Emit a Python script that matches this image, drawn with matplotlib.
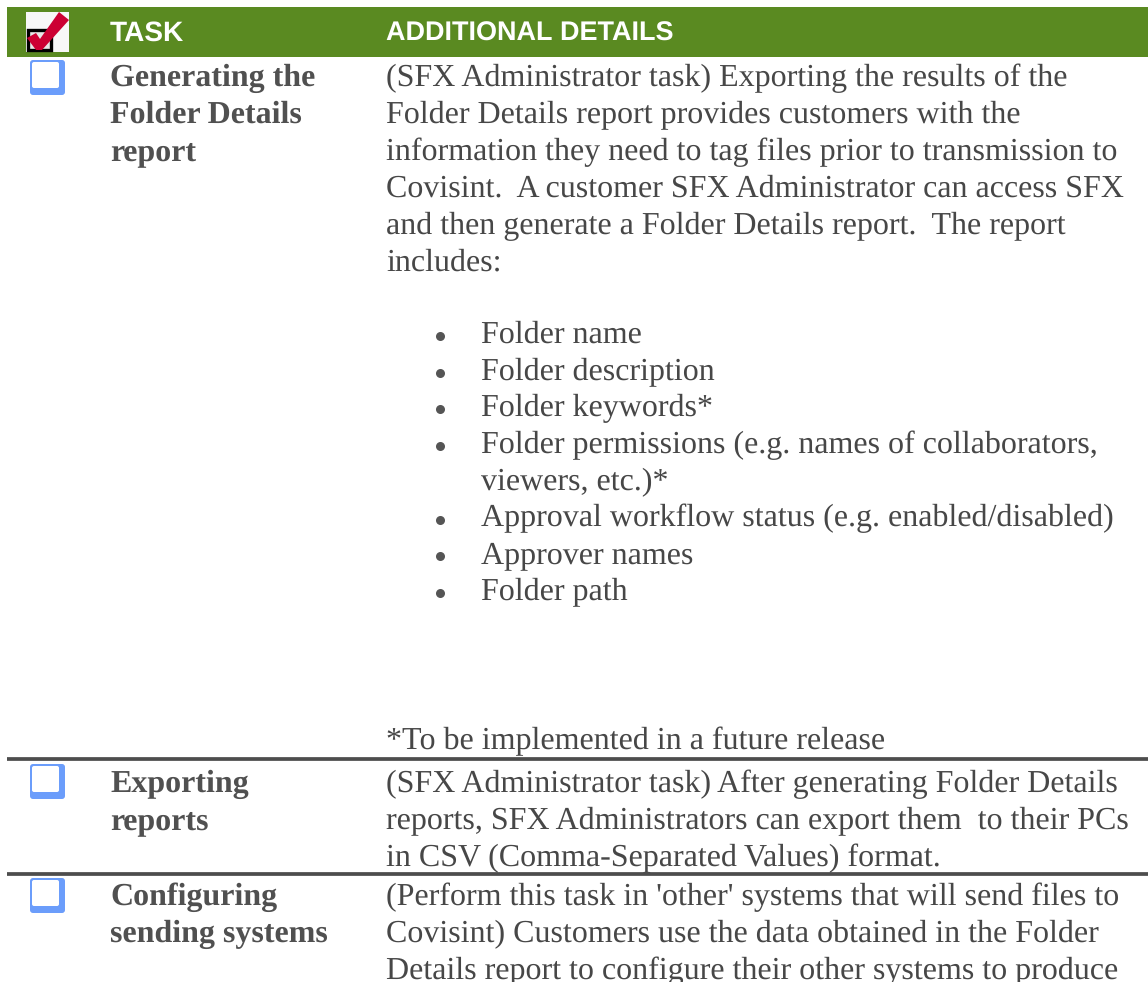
import matplotlib
matplotlib.use("Agg")
import matplotlib.pyplot as plt
from matplotlib.patches import Rectangle, FancyBboxPatch, Polygon

plt.rcParams["text.hinting"] = "none"
plt.rcParams["text.hinting_factor"] = 1

W, H = 1148, 982

headers = ["TASK", "ADDITIONAL DETAILS"]
task_lines = [
    ["Generating the", "Folder Details", "report"],
    ["Exporting", "reports"],
    ["Configuring", "sending systems"],
]
intro_lines = [
    "(SFX Administrator task) Exporting the results of the",
    "Folder Details report provides customers with the",
    "information they need to tag files prior to transmission to",
    "Covisint.  A customer SFX Administrator can access SFX",
    "and then generate a Folder Details report.  The report",
    "includes:",
]
bullets = [
    ["Folder name"],
    ["Folder description"],
    ["Folder keywords*"],
    ["Folder permissions (e.g. names of collaborators,", "viewers, etc.)*"],
    ["Approval workflow status (e.g. enabled/disabled)"],
    ["Approver names"],
    ["Folder path"],
]
footnote = "*To be implemented in a future release"
export_lines = [
    "(SFX Administrator task) After generating Folder Details",
    "reports, SFX Administrators can export them  to their PCs",
    "in CSV (Comma-Separated Values) format.",
]
config_lines = [
    "(Perform this task in 'other' systems that will send files to",
    "Covisint) Customers use the data obtained in the Folder",
    "Details report to configure their other systems to produce",
]

GREEN = "#5a8a21"
DARK = "#4d4d4d"
BLUE = "#6b9dfb"
FS = 23
LINE = 36.9

fig = plt.figure(figsize=(W / 100, H / 100), dpi=100)
ax = fig.add_axes([0, 0, 1, 1])
ax.set_xlim(0, W)
ax.set_ylim(H, 0)
ax.axis("off")


def body(x, y, s, **kw):
    ax.text(x, y, s, family="Liberation Serif", fontsize=FS, color="#474747",
            va="baseline", ha="left", **kw)


def box(y):
    ax.add_patch(FancyBboxPatch((30, y), 35, 35, boxstyle="round,pad=0,rounding_size=3",
                                fc=BLUE, ec="none"))
    ax.add_patch(FancyBboxPatch((32, y + 2), 27, 26, boxstyle="round,pad=0,rounding_size=2",
                                fc="white", ec="none"))


# header band and icon
ax.add_patch(Rectangle((7, 7), W - 7, 50, fc=GREEN, ec="none"))
ax.add_patch(Rectangle((26, 12), 43, 40, fc="#f7f7f7", ec="none"))
ax.add_patch(Rectangle((28, 30), 23, 20, fc="#e8e8e8", ec="black", lw=2.4))
ax.add_patch(Polygon([(27, 38), (36, 33), (40, 39), (59, 12), (69, 20), (42, 50), (36, 50)],
                     fc="#cc0033", ec="none"))
ax.text(110, 41, headers[0], family="Liberation Sans", fontsize=19.9, weight="bold",
        color="white", va="baseline")
ax.text(386, 41, headers[1], family="Liberation Sans", fontsize=19.1, weight="bold",
        color="white", va="baseline")

# row rules
for y in (759, 874):
    ax.plot([7, W], [y, y], color=DARK, lw=2.7, solid_capstyle="butt")

# check boxes
for y in (60, 764, 878):
    box(y)

# task column
for top, lines in zip((86, 792, 905), task_lines):
    for i, s in enumerate(lines):
        ax.text(110, top + i * LINE, s, family="Liberation Serif", fontsize=FS, weight="bold",
                color="#505050", va="baseline")

# details column
for i, s in enumerate(intro_lines):
    body(386, 86 + i * LINE, s)

y = 343
for item in bullets:
    ax.plot(440, y - 7, "o", color="#555555", ms=6.5, mew=0)
    for s in item:
        body(481, y, s)
        y += LINE * 0.995

body(386, 749, footnote)

for i, s in enumerate(export_lines):
    body(386, 792 + i * LINE, s)
for i, s in enumerate(config_lines):
    body(386, 905 + i * LINE, s)

fig.savefig("out.png", dpi=100)
